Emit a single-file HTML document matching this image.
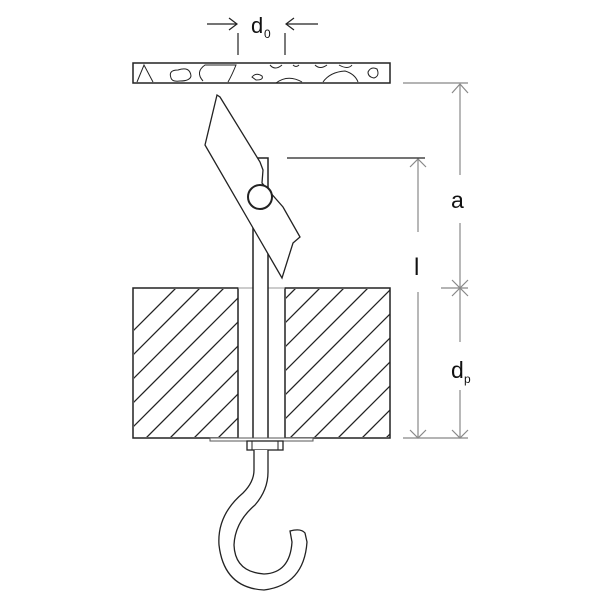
<!DOCTYPE html>
<html><head><meta charset="utf-8"><style>html,body{margin:0;padding:0;background:#fff}svg{display:block}text{font-family:"Liberation Sans Narrow","Liberation Sans",sans-serif;fill:#111}</style></head>
<body>
<svg width="600" height="600" viewBox="0 0 600 600" xmlns="http://www.w3.org/2000/svg">
<defs>
<clipPath id="cl"><rect x="134" y="289" width="104" height="148"/></clipPath>
<clipPath id="cr"><rect x="286" y="289" width="104" height="148"/></clipPath>
<g id="hatch" stroke="#222" stroke-width="1.3">
<line x1="100" y1="460" x2="300" y2="260"/><line x1="124" y1="460" x2="324" y2="260"/><line x1="148" y1="460" x2="348" y2="260"/><line x1="172" y1="460" x2="372" y2="260"/><line x1="196" y1="460" x2="396" y2="260"/><line x1="220" y1="460" x2="420" y2="260"/><line x1="244" y1="460" x2="444" y2="260"/><line x1="268" y1="460" x2="468" y2="260"/><line x1="292" y1="460" x2="492" y2="260"/><line x1="316" y1="460" x2="516" y2="260"/><line x1="340" y1="460" x2="540" y2="260"/><line x1="364" y1="460" x2="564" y2="260"/><line x1="388" y1="460" x2="588" y2="260"/><line x1="76" y1="460" x2="276" y2="260"/><line x1="52" y1="460" x2="252" y2="260"/><line x1="28" y1="460" x2="228" y2="260"/><line x1="4" y1="460" x2="204" y2="260"/>
</g>
</defs>
<rect x="133" y="63" width="257" height="20" fill="#fff" stroke="#222" stroke-width="1.5"/>
<g fill="none" stroke="#222" stroke-width="1">
<path d="M137 82 L144 65 L153 82"/>
<path d="M171 78 Q168 70 178 70 Q190 66 191 76 Q190 81 180 81 Q172 82 171 78Z"/>
<path d="M203 81 Q195 72 205 65 L236 65 Q232 75 228 82"/>
<path d="M252 77 Q256 72 262 76 Q264 80 256 80Z"/>
<path d="M270 65 Q275 71 282 65"/>
<path d="M293 65 Q296 68 299 65"/>
<path d="M276 83 Q288 74 302 82"/>
<path d="M315 65 Q320 70 327 65"/>
<path d="M323 82 Q330 72 345 71 Q355 74 358 82"/>
<path d="M339 65 Q348 70 352 65"/>
<path d="M368 72 Q371 66 377 69 Q380 76 374 78 Q368 77 368 72Z"/>
</g>
<g clip-path="url(#cl)"><use href="#hatch"/></g>
<g clip-path="url(#cr)"><use href="#hatch"/></g>
<rect x="133" y="288" width="105" height="150" fill="none" stroke="#222" stroke-width="1.5"/>
<rect x="285" y="288" width="105" height="150" fill="none" stroke="#222" stroke-width="1.5"/>
<line x1="238" y1="288" x2="285" y2="288" stroke="#999" stroke-width="1"/>
<rect x="253" y="158" width="15" height="282" fill="#fff" stroke="#222" stroke-width="1.5"/>
<path d="M217 95 L220 97 L260 162 L263 170 L262 183 L283 207 L300 237 L293 243 L282 278 L205 145 Z" fill="#fff" stroke="#222" stroke-width="1.3"/>
<circle cx="260" cy="197" r="12" fill="#fff" stroke="#222" stroke-width="2"/>
<rect x="210" y="438" width="103" height="3" fill="#fff" stroke="#555" stroke-width="1"/>
<rect x="247" y="441" width="36" height="9" fill="#fff" stroke="#222" stroke-width="1.3"/>
<line x1="252" y1="441" x2="252" y2="450" stroke="#222"/><line x1="278" y1="441" x2="278" y2="450" stroke="#222"/>
<path d="M254 450 L254 470 Q254 482 243 493 Q217 515 219 545 Q224 588 264 590 Q304 585 307 542 L305 533 Q301 528 290 531 L292 542 Q290 573 264 574 Q235 572 234 545 Q235 522 255 505 Q268 490 268 472 L268 450" fill="#fff" stroke="#222" stroke-width="1.3"/>
<g stroke="#222" stroke-width="1.2" fill="none">
<line x1="238" y1="33" x2="238" y2="55"/><line x1="285" y1="33" x2="285" y2="55"/>
<line x1="207" y1="24" x2="237" y2="24"/><path d="M229 18 L237 24 L229 30"/>
<line x1="286" y1="24" x2="318" y2="24"/><path d="M294 18 L286 24 L294 30"/>
</g>
<text x="251" y="33" font-size="22">d</text>
<text x="264" y="38" font-size="12">0</text>
<g stroke="#888" stroke-width="1.2" fill="none">
<line x1="403" y1="83" x2="468" y2="83"/>
<line x1="441" y1="288" x2="468" y2="288"/>
<line x1="403" y1="438" x2="468" y2="438"/>
<line x1="460" y1="84" x2="460" y2="175"/><line x1="460" y1="223" x2="460" y2="288"/>
<line x1="460" y1="288" x2="460" y2="342"/><line x1="460" y1="390" x2="460" y2="437"/>
<line x1="418" y1="159" x2="418" y2="232"/><line x1="418" y1="292" x2="418" y2="437"/>
<path d="M452 93 L460 84 L468 93"/><path d="M452 280 L460 288 L468 280"/>
<path d="M452 296 L460 288 L468 296"/><path d="M452 430 L460 438 L468 430"/>
<path d="M410 167 L418 159 L426 167"/><path d="M410 430 L418 438 L426 430"/>
</g>
<line x1="287" y1="158" x2="425" y2="158" stroke="#222" stroke-width="1.3"/>
<text x="451" y="208" font-size="23">a</text>
<text x="414" y="275" font-size="24">l</text>
<text x="451" y="378" font-size="23">d</text>
<text x="464" y="383" font-size="12">p</text>
</svg>
</body></html>
